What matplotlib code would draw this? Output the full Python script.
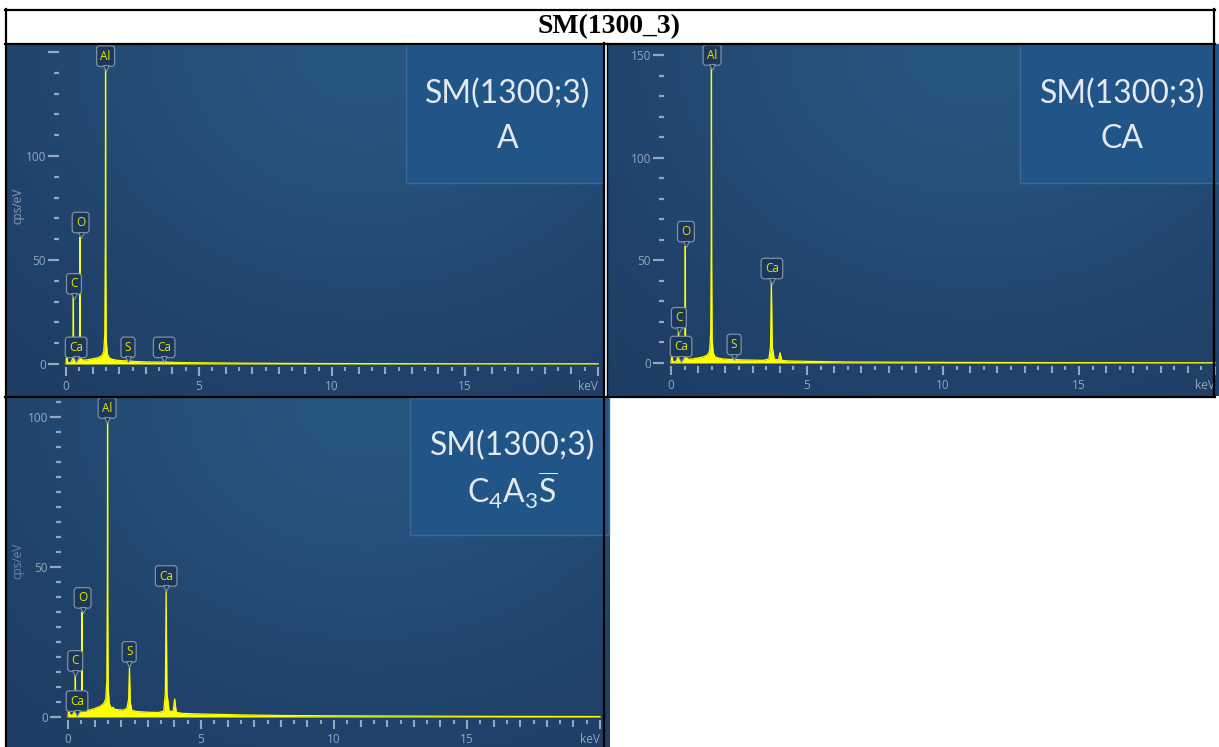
import numpy as np
import matplotlib.pyplot as plt
from matplotlib.ticker import FixedLocator
from matplotlib.lines import Line2D
from matplotlib.patches import Rectangle
from matplotlib import transforms

W, H = 1219, 747

plt.rcParams['mathtext.fontset'] = 'custom'
plt.rcParams['mathtext.rm'] = 'Lato'
plt.rcParams['mathtext.it'] = 'Lato'

title = 'SM(1300_3)'
sample = 'SM(1300;3)'
phases = ['A', 'CA', r'$\mathregular{C_4A_3\overline{S}}$']

# spectrum A
a_kev = [0.00, 0.03, 0.06, 0.10, 0.20, 0.26, 0.277, 0.285, 0.30, 0.33,
         0.345, 0.36, 0.45, 0.50, 0.515, 0.525, 0.535, 0.56, 0.65, 0.80,
         1.00, 1.20, 1.35, 1.42, 1.46, 1.48, 1.487, 1.495, 1.51, 1.55,
         1.62, 1.75, 1.90, 2.10, 2.27, 2.31, 2.35, 2.60, 3.00, 3.60,
         3.69, 3.78, 4.20, 5.00, 6.50, 8.00, 10.0, 13.0, 16.0, 20.0]
a_cps = [0.0, 6.0, 1.0, 0.5, 1.0, 3.0, 33.0, 10.0, 2.0, 2.0,
         4.0, 2.0, 1.5, 3.0, 20.0, 61.0, 15.0, 2.5, 1.8, 2.0,
         2.5, 3.0, 4.0, 6.0, 15.0, 60.0, 143.0, 50.0, 12.0, 5.0,
         3.0, 2.2, 1.8, 1.6, 1.5, 2.2, 1.5, 1.2, 1.0, 0.9,
         1.4, 0.9, 0.7, 0.6, 0.4, 0.3, 0.2, 0.15, 0.1, 0.1]
a_tags = ['Ca', 'C', 'O', 'Al', 'S', 'Ca']
a_tag_x = [0.38, 0.30, 0.55, 1.49, 2.33, 3.69]
a_tag_y = [8, 38.5, 68, 148, 8, 8]

# spectrum CA
ca_kev = [0.00, 0.03, 0.06, 0.10, 0.20, 0.26, 0.277, 0.285, 0.30, 0.33,
          0.345, 0.36, 0.45, 0.50, 0.515, 0.525, 0.535, 0.56, 0.65, 0.80,
          1.00, 1.20, 1.35, 1.42, 1.46, 1.48, 1.487, 1.495, 1.51, 1.55,
          1.62, 1.75, 1.90, 2.10, 2.27, 2.31, 2.35, 2.60, 3.00, 3.40,
          3.60, 3.66, 3.69, 3.72, 3.80, 3.95, 4.01, 4.07, 4.30, 5.00,
          6.50, 8.00, 10.0, 13.0, 16.0, 20.0]
ca_cps = [0.0, 5.0, 1.0, 0.5, 1.0, 3.0, 18.0, 8.0, 2.0, 2.0,
          8.0, 2.0, 1.5, 3.0, 20.0, 57.0, 15.0, 2.5, 1.8, 2.0,
          2.5, 3.0, 4.0, 6.0, 15.0, 60.0, 145.0, 50.0, 12.0, 5.0,
          3.0, 2.4, 2.0, 1.8, 1.7, 2.5, 1.7, 1.5, 1.4, 1.3,
          2.0, 8.0, 40.0, 8.0, 1.8, 1.5, 5.0, 1.3, 1.0, 0.8,
          0.5, 0.4, 0.3, 0.2, 0.15, 0.1]
ca_tags = ['Ca', 'C', 'O', 'Al', 'S', 'Ca']
ca_tag_x = [0.37, 0.29, 0.55, 1.51, 2.32, 3.71]
ca_tag_y = [8, 22, 64, 150, 9, 46]

# spectrum C4A3S-bar
ys_kev = [0.00, 0.03, 0.06, 0.10, 0.20, 0.26, 0.277, 0.285, 0.30, 0.33,
          0.345, 0.36, 0.45, 0.50, 0.515, 0.525, 0.535, 0.56, 0.65, 0.80,
          1.00, 1.20, 1.35, 1.42, 1.46, 1.48, 1.487, 1.495, 1.51, 1.55,
          1.62, 1.70, 1.75, 1.90, 2.10, 2.22, 2.28, 2.31, 2.34, 2.40,
          2.60, 3.00, 3.40, 3.60, 3.66, 3.69, 3.72, 3.80, 3.95, 4.01,
          4.07, 4.30, 5.00, 6.50, 8.00, 10.0, 13.0, 16.0, 20.0]
ys_cps = [0.0, 4.0, 1.0, 0.5, 1.0, 2.5, 15.0, 6.0, 2.0, 2.0,
          6.0, 2.0, 1.5, 3.0, 12.0, 35.0, 10.0, 2.5, 2.0, 2.3,
          2.8, 3.5, 4.5, 6.0, 12.0, 45.0, 99.0, 35.0, 10.0, 4.5,
          3.0, 3.2, 2.6, 2.4, 2.3, 3.0, 6.0, 16.5, 5.0, 2.2,
          1.8, 1.6, 1.5, 2.0, 8.0, 42.0, 8.0, 2.0, 1.8, 6.0,
          1.6, 1.2, 1.0, 0.7, 0.5, 0.4, 0.3, 0.2, 0.15]
ys_tags = ['Ca', 'C', 'O', 'Al', 'S', 'Ca']
ys_tag_x = [0.34, 0.27, 0.55, 1.47, 2.30, 3.69]
ys_tag_y = [5.3, 18.7, 39.7, 103, 21.7, 47]

x_ticks = [0, 5, 10, 15, 20]
x_ticklabels = ['0', '5', '10', '15', 'keV']

TICK_C = '#94a7bf'
YELLOW = '#ffff00'


def px_axes(fig, x0, y0, x1, y1):
    return fig.add_axes([x0 / W, 1 - y1 / H, (x1 - x0) / W, (y1 - y0) / H])


def background(ax):
    yy, xx = np.mgrid[0:1:200j, 0:1:300j]
    t = np.exp(-((xx - 0.6) ** 2 / 0.35 + yy ** 2 / 0.7))
    dark = np.array([30, 59, 98]) / 255
    light = np.array([39, 86, 128]) / 255
    img = dark + (light - dark) * t[..., None]
    ax.imshow(img, extent=(0, 1, 0, 1), transform=ax.transAxes,
              aspect='auto', zorder=0, origin='upper')


def tag(ax, fig, x, y, s):
    ax.text(x, y, s, ha='center', va='center', color='#e6e600',
            fontsize=8.5, family='Open Sans', zorder=6,
            bbox=dict(boxstyle='round,pad=0.32,rounding_size=0.25',
                      fc='#1b3759', ec='#7d90a8', lw=0.9))
    tr = transforms.offset_copy(ax.transData, fig=fig, y=-12, units='dots')
    ax.plot([x], [y], marker='v', ms=5, mfc='#1b3759', mec='#7d90a8',
            mew=0.8, transform=tr, zorder=7)


def spectrum_panel(fig, rect, x0px, kx, y0px, ky, kev, cps, tags, tag_x, tag_y,
                   ymaj_ticks, ymaj_labels, yminor, cps_y):
    left, top, right, bottom = rect
    ax = px_axes(fig, left, top, right, bottom)
    background(ax)
    ax.set_xlim((left - x0px) / kx, (right - x0px) / kx)
    ax.set_ylim((y0px - bottom) / ky, (y0px - top) / ky)

    ax.fill_between(kev, cps, 0, color=YELLOW, lw=0, zorder=3)
    ax.plot(kev, cps, color=YELLOW, lw=0.9, zorder=3)

    for s, x, y in zip(tags, tag_x, tag_y):
        tag(ax, fig, x, y, s)

    for side in ['top', 'right']:
        ax.spines[side].set_visible(False)
    ax.spines['left'].set_position(('data', -7 / kx))
    ax.spines['left'].set_color('none')
    ax.spines['bottom'].set_position(('data', -2.5 / ky))
    ax.spines['bottom'].set_color('none')

    ytop = ax.get_ylim()[1]
    ax.yaxis.set_major_locator(FixedLocator(ymaj_ticks))
    ax.set_yticklabels(ymaj_labels)
    ymin_ticks = [v for v in np.arange(yminor, ytop, yminor) if v % 50]
    ax.yaxis.set_minor_locator(FixedLocator(ymin_ticks))
    ax.xaxis.set_major_locator(FixedLocator(x_ticks))
    ax.set_xticklabels(x_ticklabels)
    ax.xaxis.set_minor_locator(FixedLocator(np.arange(0.5, 20, 1.0)))
    ax.get_xticklabels()[-1].set_ha('right')

    ax.tick_params(axis='y', which='major', length=8, width=1.6, color=TICK_C,
                   labelcolor=TICK_C, labelsize=8.5, pad=1.5)
    ax.tick_params(axis='y', which='minor', length=3.5, width=1.6, color=TICK_C)
    ax.tick_params(axis='x', which='major', length=6.5, width=1.5, color=TICK_C,
                   labelcolor=TICK_C, labelsize=8.5, pad=3)
    ax.tick_params(axis='x', which='minor', length=2.8, width=1.5, color=TICK_C)
    for lab in ax.get_xticklabels() + ax.get_yticklabels():
        lab.set_family('Open Sans')

    # intermediate (integer keV) ticks
    ints = [k for k in range(1, 20) if k % 5]
    ax.vlines(ints, -2.5 / ky, -9.5 / ky, color=TICK_C, lw=1.5, zorder=2)

    ax.text((18 - x0px) / kx, cps_y, 'cps/eV', rotation=90, ha='center',
            va='center', color='#7288a4', fontsize=8.5, family='Open Sans')
    return ax


fig = plt.figure(figsize=(W / 100, H / 100), dpi=100)

spectrum_panel(fig, (7, 44, 603, 396), 66, 26.6, 364, 2.08,
               a_kev, a_cps, a_tags, a_tag_x, a_tag_y,
               [0, 50, 100, 150], ['0', '50', '100', ''], 10, 76)
spectrum_panel(fig, (607, 44, 1219, 396), 671, 27.2, 363, 2.053,
               ca_kev, ca_cps, ca_tags, ca_tag_x, ca_tag_y,
               [0, 50, 100, 150], ['0', '50', '100', '150'], 10, 76.5)
spectrum_panel(fig, (7, 398, 610, 747), 68, 26.6, 717, 3.0,
               ys_kev, ys_cps, ys_tags, ys_tag_x, ys_tag_y,
               [0, 50, 100], ['0', '50', '100'], 5, 52)

# info boxes
boxes = [(406, 44, 603, 183), (1020, 44, 1219, 183), (410, 398, 609, 535)]
line1_y = [94, 94, 446]
line2_y = [139, 139, 490]
for (x0, y0, x1, y1), ly1, ly2, ph in zip(boxes, line1_y, line2_y, phases):
    fig.add_artist(Rectangle((x0 / W, 1 - y1 / H), (x1 - x0) / W, (y1 - y0) / H,
                             transform=fig.transFigure, fc='#215487',
                             ec='#3b6a98', lw=1.0, zorder=4))
    cx = (x0 + x1) / 2 + 3
    fig.text(cx / W, 1 - ly1 / H, sample, ha='center', va='center',
             color='#e4e9ee', fontsize=23, family='Lato', zorder=5)
    fig.text(cx / W, 1 - ly2 / H, ph, ha='center', va='center',
             color='#e4e9ee', fontsize=23, family='Lato', zorder=5)

# table frame
fig.text(609 / W, 1 - 27 / H, title, ha='center', va='center',
         fontsize=20, fontweight='bold', family='Liberation Serif')


def hline(y, x0, x1, lw=1.6):
    fig.add_artist(Line2D([x0 / W, x1 / W], [1 - y / H, 1 - y / H],
                          color='black', lw=lw, zorder=10))


def vline(x, y0, y1, lw=1.6):
    fig.add_artist(Line2D([x / W, x / W], [1 - y0 / H, 1 - y1 / H],
                          color='black', lw=lw, zorder=10))


hline(9.5, 5, 1215)
hline(43.5, 5, 1215)
hline(396.5, 5, 1215)
vline(5.5, 9, 747)
vline(1214, 9, 397)
vline(603.5, 43, 747)
vline(606.5, 43, 397, lw=1.0)

fig.savefig('out.png', dpi=100, facecolor='white')
